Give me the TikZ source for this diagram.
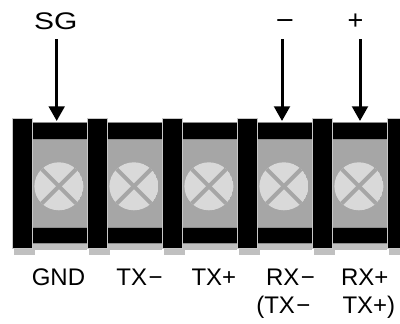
\documentclass[tikz,border=0pt]{standalone}
\usepackage{fontspec}
\setmainfont{Liberation Sans}
\usetikzlibrary{arrows.meta}
\definecolor{bodygray}{HTML}{A6A6A6}
\definecolor{capgray}{HTML}{D9D9D9}
\definecolor{stripgray}{HTML}{C0C0C0}
\definecolor{edgegray}{HTML}{8C8C8C}
\definecolor{postedge}{HTML}{C8C8C8}
\newcommand{\mns}{\kern1.5pt−}
\tikzset{
  body/.style={fill=bodygray},
  bar/.style={fill=black,draw=edgegray,line width=0.8pt},
  post/.style={fill=black,draw=postedge,line width=0.7pt},
  strip/.style={fill=stripgray},
  screwcap/.style={fill=capgray},
  screwx/.style={draw=bodygray,line width=4pt},
  lbl/.style={inner sep=0pt,outer sep=0pt,font=\fontsize{24}{28}\selectfont},
  toplbl/.style={inner sep=0pt,outer sep=0pt,font=\fontsize{27}{30}\selectfont},
  pin/.style={line width=3pt,-{Triangle[width=15.7pt,length=14.7pt]}}
}
\begin{document}
\begin{tikzpicture}[x=1pt,y=-1pt]
\useasboundingbox (0,0) rectangle (400,324);
% terminals
\foreach \k in {0,...,4}{
  \pgfmathsetmacro{\L}{31.7+75*\k}
  \pgfmathsetmacro{\R}{\L+55.2}
  \pgfmathsetmacro{\C}{\L+27.2}
  \fill[strip] (\L,243) rectangle (\R,250);
  \fill[body] (\L,139) rectangle (\R,226.5);
  \node[bar,minimum width=55.2pt,minimum height=17pt,inner sep=0pt,anchor=north west] (top\k) at (\L,122) {};
  \node[bar,minimum width=55.2pt,minimum height=16.8pt,inner sep=0pt,anchor=north west] (bot\k) at (\L,226.5) {};
  \begin{scope}
    \clip (\C,186.3) circle[x radius=24.5pt,y radius=24pt];
    \fill[screwcap] (\C,186.3) circle[x radius=24.5pt,y radius=24pt];
    \draw[screwx] (\C-30,156.3) -- (\C+30,216.3);
    \draw[screwx] (\C+30,156.3) -- (\C-30,216.3);
  \end{scope}
}
% posts
\foreach \k in {0,...,5}{
  \pgfmathsetmacro{\P}{12.3+75*\k}
  \fill[strip] (\P+1.7,249.3) rectangle (\P+22.7,255);
  \node[post,minimum width=19.6pt,minimum height=129.7pt,inner sep=0pt,anchor=north west] (post\k) at (\P,118.3) {};
}
% top labels and arrows
\node[lbl,anchor=base] (sg) at (55.7,30) {\scalebox{1.25}[1]{SG}};
\node[toplbl,anchor=base] (minus) at (285,29.3) {\scalebox{1.15}[1]{−}};
\node[toplbl,anchor=base] (plus) at (355.4,29.8) {+};
\coordinate (a1s) at (56.7,39);
\coordinate (a1e) at (56.7,121);
\coordinate (a2s) at (282,39);
\coordinate (a2e) at (282,121);
\coordinate (a3s) at (360,39);
\coordinate (a3e) at (360,121);
\draw[pin] (a1s) -- (a1e);
\draw[pin] (a2s) -- (a2e);
\draw[pin] (a3s) -- (a3e);
% bottom labels
\node[lbl,anchor=base west] (gnd) at (31.8,285) {GND};
\node[lbl,anchor=base west] (txm) at (116.5,285) {TX\mns};
\node[lbl,anchor=base west] (txp) at (191.5,285) {TX+};
\node[lbl,anchor=base west] (rxm) at (266.1,285) {RX\mns};
\node[lbl,anchor=base west] (rxp) at (341.1,285) {RX+};
\node[lbl,anchor=base west] (txm2) at (256.3,313) {(TX\mns};
\node[lbl,anchor=base west] (txp2) at (342.5,313) {TX+)};
\end{tikzpicture}
\end{document}
